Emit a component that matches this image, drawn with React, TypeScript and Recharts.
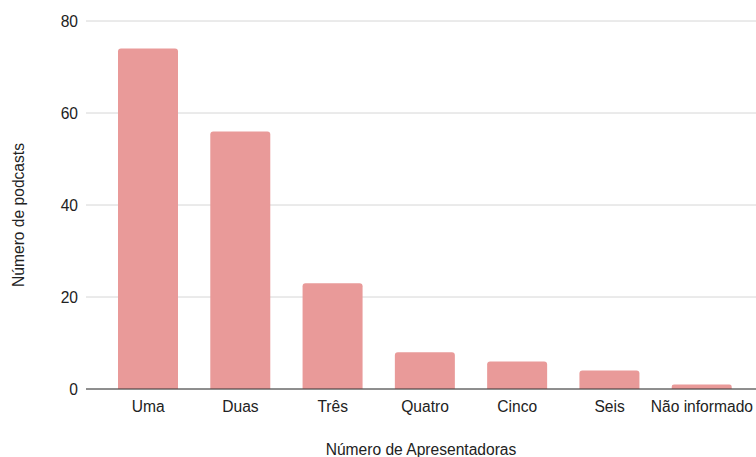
import { BarChart, Bar, XAxis, YAxis, CartesianGrid } from "recharts";

const categorias = ["Uma", "Duas", "Três", "Quatro", "Cinco", "Seis", "Não informado"];
const podcasts = [74, 56, 23, 8, 6, 4, 1];
const yTicks = [0, 20, 40, 60, 80];

const FONT = "'Liberation Sans', Arial, sans-serif";
const TEXT = "#222";
const SIZE = 15.6;

export default function App() {
  const data = categorias.map((c, i) => ({ categoria: c, valor: podcasts[i] }));

  return (
    <div style={{ position: "absolute", left: 0, top: 0, fontFamily: FONT }}>
      <BarChart
        width={756}
        height={457}
        data={data}
        margin={{ top: 21, right: 0, left: 0, bottom: 0 }}
        barCategoryGap={32}
      >
        <CartesianGrid vertical={false} stroke="#d6d6d6" />
        <XAxis
          dataKey="categoria"
          height={68}
          tickLine={false}
          axisLine={{ stroke: "#333" }}
          tick={{ fill: TEXT, fontSize: SIZE, fontFamily: FONT }}
          tickMargin={6}
          interval={0}
          padding={{ left: 16, right: 8 }}
          label={{
            value: "Número de Apresentadoras",
            position: "insideBottom",
            offset: 2,
            fill: TEXT,
            fontSize: SIZE,
            fontFamily: FONT,
          }}
        />
        <YAxis
          width={86}
          domain={[0, 80]}
          ticks={yTicks}
          tickLine={false}
          axisLine={false}
          tick={{ fill: TEXT, fontSize: SIZE, fontFamily: FONT }}
          label={{
            value: "Número de podcasts",
            angle: -90,
            position: "insideLeft",
            offset: 18,
            dy: 10,
            fill: TEXT,
            fontSize: SIZE,
            fontFamily: FONT,
            style: { textAnchor: "middle" },
          }}
        />
        <Bar
          dataKey="valor"
          fill="#e99a99"
          barSize={60}
          radius={[3, 3, 0, 0]}
          isAnimationActive={false}
        />
      </BarChart>
    </div>
  );
}
